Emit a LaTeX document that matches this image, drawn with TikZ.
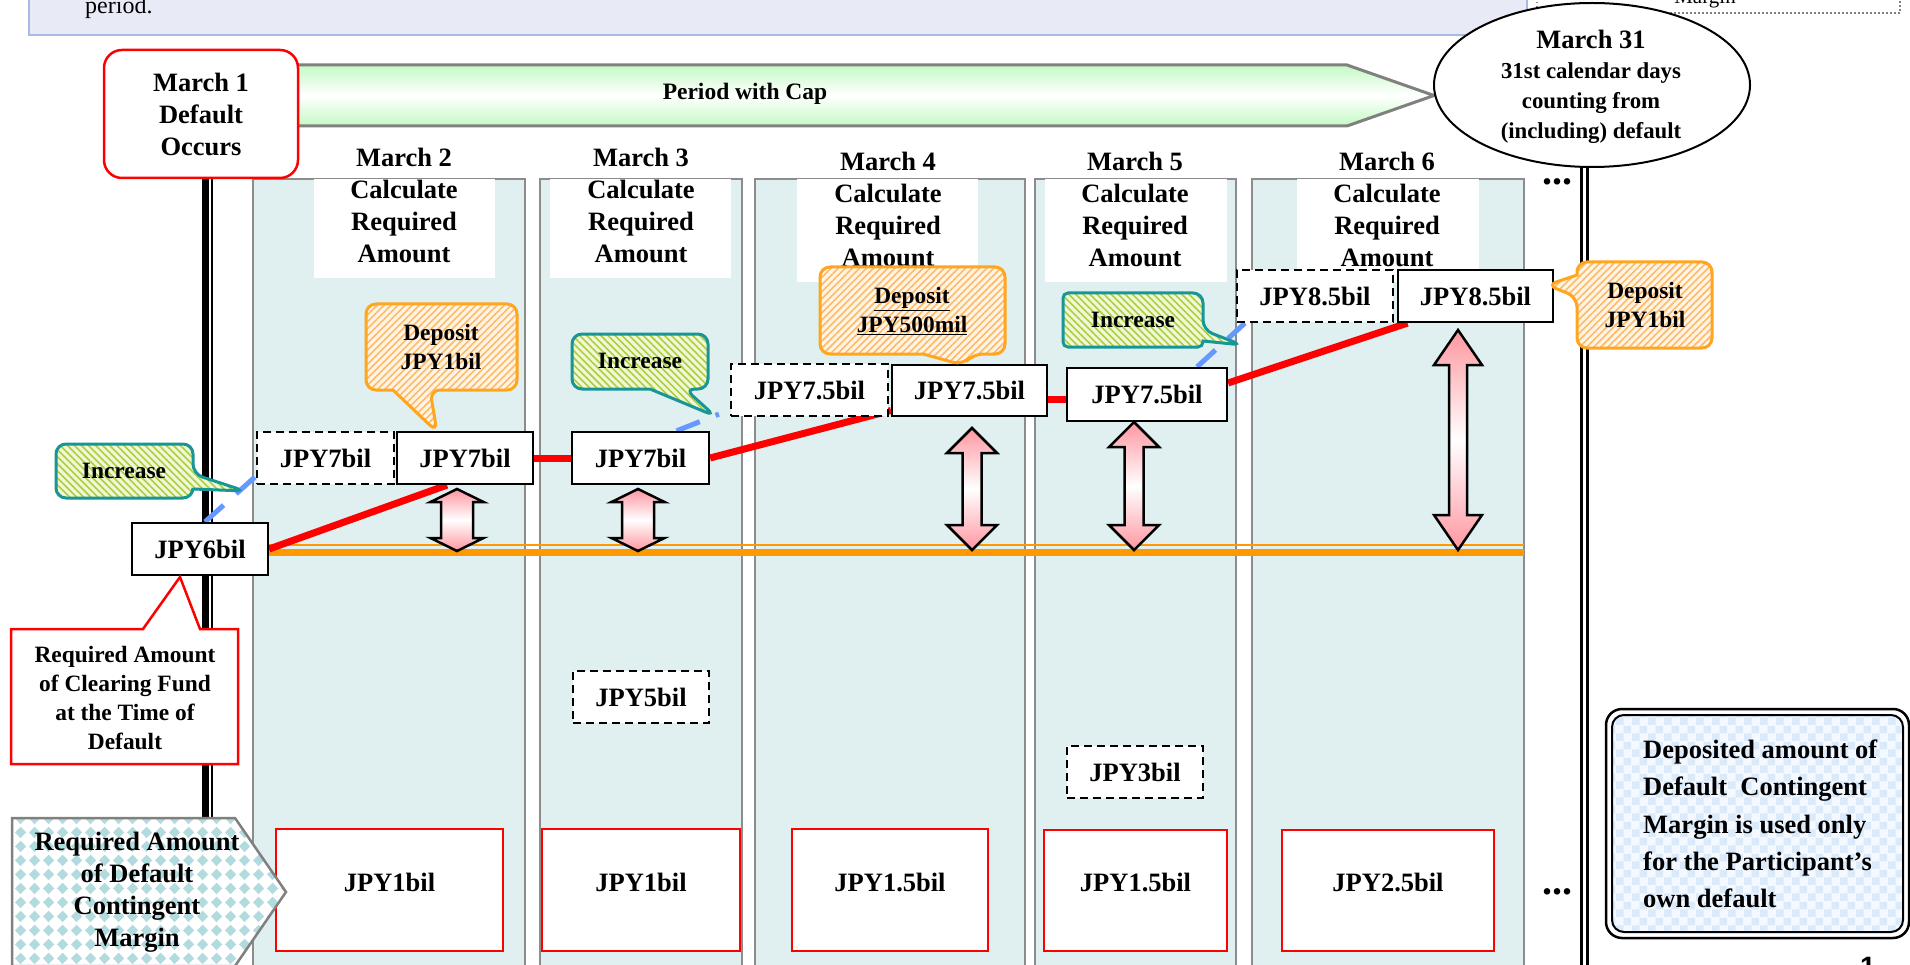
\documentclass[tikz,border=0pt]{standalone}
\usepackage{fontspec}
\setmainfont{Liberation Serif}
\setsansfont{Liberation Sans}
\usetikzlibrary{patterns,patterns.meta,shapes.geometric}

\definecolor{colfill}{RGB}{224,240,240}
\definecolor{colline}{RGB}{140,140,140}
\definecolor{lav}{RGB}{232,234,246}
\definecolor{lavline}{RGB}{170,185,225}
\definecolor{capgreen}{RGB}{196,250,196}
\definecolor{capline}{RGB}{128,128,128}
\definecolor{boxred}{RGB}{255,0,0}
\definecolor{capband}{RGB}{255,153,0}
\definecolor{incblue}{RGB}{102,153,255}
\definecolor{tealline}{RGB}{24,150,150}
\definecolor{incfill}{RGB}{240,248,214}
\definecolor{incstripe}{RGB}{172,206,64}
\definecolor{depline}{RGB}{255,165,30}
\definecolor{depfill}{RGB}{255,244,230}
\definecolor{depstripe}{RGB}{255,186,102}
\definecolor{pinkend}{RGB}{255,150,160}
\definecolor{dcmteal}{RGB}{176,220,224}
\definecolor{notefill}{RGB}{244,249,255}
\definecolor{notecheck}{RGB}{218,234,250}

\newcommand\fbig{\fontsize{26.5}{32}\selectfont\bfseries}
\newcommand\fmid{\fontsize{23.4}{29}\selectfont\bfseries}
\newcommand\fell{\fontsize{22.8}{30}\selectfont\bfseries}

% checkerboard tile for the note box
\pgfdeclarepatternformonly{notechecker}{\pgfpointorigin}{\pgfpoint{16pt}{16pt}}{\pgfpoint{16pt}{16pt}}{%
  \pgfpathrectangle{\pgfpointorigin}{\pgfpoint{8pt}{8pt}}%
  \pgfpathrectangle{\pgfpoint{8pt}{8pt}}{\pgfpoint{8pt}{8pt}}%
  \pgfusepath{fill}}
% diamond tile for the margin label
\pgfdeclarepatternformonly{dcmdiamonds}{\pgfpointorigin}{\pgfpoint{14pt}{14pt}}{\pgfpoint{14pt}{14pt}}{%
  \pgfpathmoveto{\pgfpoint{7pt}{1pt}}%
  \pgfpathlineto{\pgfpoint{13pt}{7pt}}%
  \pgfpathlineto{\pgfpoint{7pt}{13pt}}%
  \pgfpathlineto{\pgfpoint{1pt}{7pt}}%
  \pgfpathclose
  \pgfusepath{fill}}

\pgfdeclarelayer{base}
\pgfdeclarelayer{lines}
\pgfsetlayers{base,lines,main}

\tikzset{
  colbox/.style={fill=colfill, draw=colline, line width=1.2pt},
  hdrtext/.style={align=center, inner sep=0pt, font=\fbig},
  amount/.style={draw=black, line width=2.2pt, fill=white, inner sep=0pt, font=\fbig},
  prior/.style={amount, dash pattern=on 8pt off 5pt},
  dcmbox/.style={draw=boxred, line width=2.5pt, fill=white, inner sep=0pt, font=\fbig, text depth=16pt},
  trend/.style={draw=red, line width=7pt},
  incdash/.style={draw=incblue, line width=5pt, dash pattern=on 25pt off 17pt},
  pinkarrow/.style={draw=black, line width=2.5pt, top color=pinkend, bottom color=pinkend, middle color=white},
  inccall/.style={preaction={fill=incfill},
    preaction={pattern={Lines[angle=-45,distance=5pt,line width=1.6pt]}, pattern color=incstripe},
    draw=tealline, line width=3pt},
  depcall/.style={preaction={fill=depfill},
    preaction={pattern={Lines[angle=45,distance=5pt,line width=1.6pt]}, pattern color=depstripe},
    draw=depline, line width=3pt},
  calltext/.style={align=center, inner sep=0pt, font=\fmid},
  more/.style={inner sep=0pt, font=\fontsize{40}{40}\selectfont\bfseries},
}

% vertical double-headed arrow: centre x, top y, bottom y, head half width, shaft half width, head length
\newcommand\dblarrow[6]{%
  \shadedraw[pinkarrow] (#1,#2) -- ({#1+#4},{#2+#6}) -- ({#1+#5},{#2+#6}) -- ({#1+#5},{#3-#6})
    -- ({#1+#4},{#3-#6}) -- (#1,#3) -- ({#1-#4},{#3-#6}) -- ({#1-#5},{#3-#6})
    -- ({#1-#5},{#2+#6}) -- ({#1-#4},{#2+#6}) -- cycle;}

\begin{document}
\begin{tikzpicture}[x=1pt,y=-1pt]
\useasboundingbox (0,0) rectangle (1910,965);

\begin{pgfonlayer}{base}
  \fill[white] (0,0) rectangle (1910,965);
  % explanatory panel and note frame along the top edge
  \draw[fill=lav, draw=lavline, line width=2pt] (29,-10) rectangle (1527,35);
  \node[anchor=base west, inner sep=0pt, font=\fontsize{24}{29}\selectfont] (prd) at (85,14) {period.};
  \draw[gray, line width=1.3pt, dash pattern=on 1.5pt off 2.5pt] (1537,-10) -- (1537,13) -- (1900,13) -- (1900,-10);
  \node[anchor=base, inner sep=0pt, font=\fontsize{21}{25}\selectfont] (mrg) at (1705,4) {Margin};
  % day columns
  \foreach \l/\r in {253/525, 540/742, 755/1025, 1035/1236, 1252/1524}
    \draw[colbox] (\l,179) rectangle (\r,975);
  % header backgrounds
  \fill[white] (314,179) rectangle (495,278);
  \fill[white] (550,179) rectangle (731,278);
  \fill[white] (797,179) rectangle (978,282);
  \fill[white] (1045,179) rectangle (1227,282);
  \fill[white] (1297,179) rectangle (1479,282);
  % time axis at default and at day 31
  \draw[line width=7pt] (205.5,177) -- (205.5,975);
  \draw[line width=2pt] (211.5,177) -- (211.5,975);
  \draw[line width=2.8pt] (1581.5,166) -- (1581.5,975);
  \draw[line width=2.8pt] (1587.5,166) -- (1587.5,975);
\end{pgfonlayer}

% period with cap banner
\shadedraw[top color=capgreen, bottom color=capgreen, middle color=white, draw=capline, line width=3pt]
  (280,65) -- (1347,65) -- (1434,95.5) -- (1347,126) -- (280,126) -- cycle;
\node[inner sep=0pt, font=\fontsize{23.5}{28}\selectfont\bfseries] (cap) at (745,94) {Period with Cap};

% start and end of the period
\node[draw=boxred, line width=2.5pt, rounded corners=18pt, fill=white, minimum width=194, minimum height=128,
  inner sep=0pt, align=center, font=\fbig] (m1) at (201,114) {March 1\\Default\\Occurs};
\node[ellipse, draw, line width=2pt, fill=white, minimum width=316, minimum height=164, inner sep=0pt] (e31) at (1592,85) {};
\node[align=center, inner sep=0pt, font=\fell] (e31t) at (1591,86.5)
  {{\fbig March 31}\\31st calendar days\\counting from\\(including) default};

% column headers
\node[hdrtext] (h2) at (404,205) {March 2\\Calculate\\Required\\Amount};
\node[hdrtext] (h3) at (641,205) {March 3\\Calculate\\Required\\Amount};
\node[hdrtext] (h4) at (888,209) {March 4\\Calculate\\Required\\Amount};
\node[hdrtext] (h5) at (1135,209) {March 5\\Calculate\\Required\\Amount};
\node[hdrtext] (h6) at (1387,209) {March 6\\Calculate\\Required\\Amount};
\node[more] (dt1) at (1557,182) {...};
\node[more] (dt2) at (1557,892) {...};

% clearing fund amounts
\node[amount, minimum width=136, minimum height=52] (b6) at (200,549) {JPY6bil};
\node[prior, minimum width=137, minimum height=52] (d1) at (325.5,458) {JPY7bil};
\node[amount, minimum width=136, minimum height=52] (s1) at (465,458) {JPY7bil};
\node[amount, minimum width=137, minimum height=52] (s2) at (640.5,458) {JPY7bil};
\node[prior, minimum width=157, minimum height=52] (d3) at (809.5,390) {JPY7.5bil};
\node[amount, minimum width=155, minimum height=51] (s3) at (969.5,390.5) {JPY7.5bil};
\node[amount, minimum width=160, minimum height=53] (s4) at (1147,394.5) {JPY7.5bil};
\node[prior, minimum width=156, minimum height=52] (d5) at (1315,296) {JPY8.5bil};
\node[amount, minimum width=155, minimum height=52] (s5) at (1475.5,296) {JPY8.5bil};
\node[prior, minimum width=136, minimum height=52] (d2b) at (641,697) {JPY5bil};
\node[prior, minimum width=136, minimum height=52] (d4b) at (1135,772) {JPY3bil};

% default contingent margin amounts
\node[dcmbox, minimum width=227, minimum height=122] (r1) at (389.5,890) {JPY1bil};
\node[dcmbox, minimum width=198, minimum height=122] (r2) at (641,890) {JPY1bil};
\node[dcmbox, minimum width=196, minimum height=122] (r3) at (890,890) {JPY1.5bil};
\node[dcmbox, minimum width=183, minimum height=121] (r4) at (1135.5,890.5) {JPY1.5bil};
\node[dcmbox, minimum width=212, minimum height=121] (r5) at (1388,890.5) {JPY2.5bil};

\begin{pgfonlayer}{lines}
  % cap level
  \draw[capband, line width=2.5pt] (b6.east |- 0,545) -- (1524,545);
  \draw[capband, line width=7pt] (b6.east |- 0,552.5) -- (1524,552.5);
  % required amount trend
  \draw[trend] (b6.east) -- ([xshift=-18pt]s1.south);
  \draw[trend] (s1.east) -- (s2.west);
  \draw[trend] (s2.east) -- ([yshift=-20pt]s3.west);
  \draw[trend] ([yshift=-8.5pt]s3.east) -- ([yshift=-4.5pt]s4.west);
  \draw[trend] ([yshift=11.5pt]s4.east) -- ([xshift=-68pt]s5.south);
  % recalculated increases
  \draw[incdash] ([xshift=5pt]b6.north) -- ([yshift=9pt]d1.south west);
  \draw[incdash] ([xshift=36pt]s2.north) -- ([xshift=-11pt,yshift=3pt]d3.south west);
  \draw[incdash] ([xshift=50pt]s4.north) -- ([xshift=9pt]d5.south west);
\end{pgfonlayer}

% distance between required amount and cap
\dblarrow{457}{489}{551}{26.5}{16}{13}
\dblarrow{638}{489}{551}{26.5}{16}{13}
\dblarrow{972}{428}{550}{25}{9.5}{25}
\dblarrow{1134}{422}{550}{25}{9.5}{25}
\dblarrow{1458}{330}{550}{24}{9}{35}

% callouts
\path[inccall] (120,444) [rounded corners=10pt] -- (193,444) -- (193,474) -- (245,491) [sharp corners] -- (193,489)
  [rounded corners=10pt] -- (193,498) -- (56,498) -- (56,444) -- cycle;
\node[calltext] (inc0t) at (124,471) {Increase};

\path[depcall] (441,304) [rounded corners=10pt] -- (517,304) -- (517,390) -- (430,390) -- (437,432) [sharp corners] -- (393,390)
  [rounded corners=10pt] -- (366,390) -- (366,304) -- cycle;
\node[calltext] (dep1t) at (441,347) {Deposit\\JPY1bil};

\path[inccall] (640,334) [rounded corners=10pt] -- (708,334) -- (708,389) -- (685,389) -- (715,416) [sharp corners] -- (650,389)
  [rounded corners=10pt] -- (572,389) -- (572,334) -- cycle;
\node[calltext] (inc2t) at (640,361) {Increase};

\path[depcall] (912,267) [rounded corners=10pt] -- (1005,267) -- (1005,354) -- (973,354) -- (963,365) [sharp corners] -- (923,354)
  [rounded corners=10pt] -- (820,354) -- (820,267) -- cycle;
\node[calltext] (dep3t) at (912,311) {\underline{Deposit}\\\underline{JPY500mil}};

\path[inccall] (1133,293) [rounded corners=10pt] -- (1203,293) -- (1203,330) -- (1242,345) [sharp corners] -- (1203,341)
  [rounded corners=5pt] -- (1203,347) -- (1063,347) -- (1063,293) -- cycle;
\node[calltext] (inc4t) at (1133,320) {Increase};

\path[depcall] (1645,262) [rounded corners=10pt] -- (1712,262) -- (1712,348) -- (1577,348) -- (1577,297) -- (1547,285) [sharp corners]
  -- (1577,275) [rounded corners=10pt] -- (1577,262) -- cycle;
\node[calltext] (dep5t) at (1645,305) {Deposit\\JPY1bil};

\draw[boxred, line width=2.5pt, fill=white] (11,629) -- (143,629) -- (180,577) -- (200,629) -- (238,629) -- (238,764) -- (11,764) -- cycle;
\node[calltext] (cft) at (125,698) {Required Amount\\of Clearing Fund\\at the Time of\\Default};

% default contingent margin label
\draw[capline, line width=2.5pt, preaction={fill=white}, preaction={pattern=dcmdiamonds, pattern color=dcmteal}]
  (12,818) -- (235,818) -- (286,892) -- (235,966) -- (12,966) -- cycle;
\node[align=center, inner sep=0pt, font=\fbig] (dcmt) at (137,892) {Required Amount\\of Default\\Contingent\\Margin};

% note on the use of the margin
\draw[line width=2.5pt, fill=white, rounded corners=16pt] (1606,709) rectangle (1909,938);
\draw[line width=2pt, rounded corners=12pt, preaction={fill=notefill}, preaction={pattern=notechecker, pattern color=notecheck}]
  (1612,715) rectangle (1903,932);
\node[anchor=west, align=left, inner sep=0pt, font=\fontsize{26.5}{37.25}\selectfont\bfseries] (note) at (1643,824)
  {Deposited amount of\\Default~~Contingent\\Margin is used only\\for the Participant’s\\own default};

\node[anchor=north, inner sep=0pt, font=\sffamily\bfseries\fontsize{28}{30}\selectfont] (pg) at (1868,957) {1};
\end{tikzpicture}
\end{document}
